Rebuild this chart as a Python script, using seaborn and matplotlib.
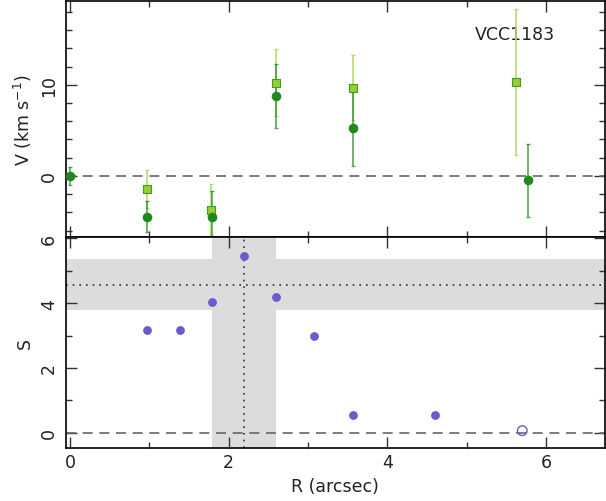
import numpy as np
import pandas as pd
import seaborn as sns
from matplotlib import pyplot as plt
from matplotlib.ticker import MultipleLocator

# velocity panel: circles (dark green) and squares (yellow-green)
circ_r = [0.0, 0.97, 1.79, 2.59, 3.57, 5.77]
circ_v = [0.0, -4.5, -4.5, 8.8, 5.3, -0.5]
circ_err = [1.0, 1.7, 2.8, 3.5, 4.25, 4.0]

sq_r = [0.97, 1.78, 2.59, 3.57, 5.62]
sq_v = [-1.4, -3.7, 10.25, 9.7, 10.3]
sq_err = [2.1, 2.8, 3.65, 3.6, 8.0]

# S panel
s_r = [0.97, 1.38, 1.79, 2.19, 2.59, 3.08, 3.57, 4.60]
s_val = [3.16, 3.16, 4.04, 5.46, 4.19, 2.98, 0.56, 0.56]
s_open_r = [5.70]
s_open_val = [0.06]

band_r = (1.79, 2.59)
peak_r = 2.19
band_s = (3.78, 5.35)
mean_s = 4.56

sns.set_style('ticks')
plt.rcParams['font.family'] = ['DejaVu Sans']
plt.rcParams['font.size'] = 12.5
plt.rcParams['text.color'] = '#222222'
plt.rcParams['axes.labelcolor'] = '#222222'
plt.rcParams['xtick.labelcolor'] = '#222222'
plt.rcParams['ytick.labelcolor'] = '#222222'
plt.rcParams['xtick.direction'] = 'in'
plt.rcParams['ytick.direction'] = 'in'
plt.rcParams['xtick.top'] = True
plt.rcParams['ytick.right'] = True

fig = plt.figure(figsize=(6.06, 5.02), dpi=100)
ax1 = fig.add_axes([0.109, 0.525, 0.889, 0.471])
ax2 = fig.add_axes([0.109, 0.1046, 0.889, 0.4204], sharex=ax1)

dark = '#1e8a1e'
light = '#9acd32'

# top panel
ax1.axhline(0, color='#666666', lw=1.2, ls=(0, (6, 4)), zorder=1)
ax1.text(5.1, 15.6, 'VCC1183', fontsize=12.5, va='center', zorder=1)
ax1.errorbar(sq_r, sq_v, yerr=sq_err, fmt='none', ecolor='#b5dc6a',
             elinewidth=1.2, capsize=1.5, zorder=2)
ax1.errorbar(circ_r, circ_v, yerr=circ_err, fmt='none', ecolor=dark,
             elinewidth=1.2, capsize=1.5, alpha=0.75, zorder=3)
sns.scatterplot(x=sq_r, y=sq_v, ax=ax1, marker='s', s=36, color=light,
                edgecolor='#3aa020', linewidth=0.8, zorder=4)
sns.scatterplot(x=circ_r, y=circ_v, ax=ax1, marker='o', s=48, color=dark,
                edgecolor=dark, linewidth=0, zorder=5)
ax1.set_ylim(-6.76, 19.2)
ax1.yaxis.set_major_locator(MultipleLocator(10))
ax1.yaxis.set_minor_locator(MultipleLocator(2))
ax1.set_ylabel('V (km s$^{-1}$)')
ax1.tick_params(labelbottom=False)

# bottom panel
ax2.axvspan(*band_r, color='#dcdcdc', lw=0, zorder=0)
ax2.axhspan(*band_s, color='#dcdcdc', lw=0, zorder=0)
ax2.axvline(peak_r, color='#333333', lw=1.2, ls=(0, (1, 3)), zorder=1)
ax2.axhline(mean_s, color='#333333', lw=1.2, ls=(0, (1, 3)), zorder=1)
ax2.axhline(0, color='#666666', lw=1.2, ls=(0, (6, 4)), zorder=1)
sns.scatterplot(x=s_r, y=s_val, ax=ax2, marker='o', s=40, color='#6a5acd',
                linewidth=0, zorder=3)
sns.scatterplot(x=s_open_r, y=s_open_val, ax=ax2, marker='o', s=48,
                facecolor='none', edgecolor='#6a5acd', linewidth=1.0, zorder=3)
ax2.set_ylim(-0.49, 6.03)
ax2.yaxis.set_major_locator(MultipleLocator(2))
ax2.yaxis.set_minor_locator(MultipleLocator(1))
ax2.set_ylabel('S')
ax2.set_xlabel('R (arcsec)')

ax2.set_xlim(-0.05, 6.74)
ax2.xaxis.set_major_locator(MultipleLocator(2))
ax2.xaxis.set_minor_locator(MultipleLocator(1))

for ax in (ax1, ax2):
    ax.tick_params(which='major', length=8, width=1, color='#333333')
    ax.tick_params(which='minor', length=4, width=1, color='#333333')
    ax.tick_params(axis='y', labelrotation=90, pad=6)
    for lbl in ax.get_yticklabels():
        lbl.set_va('center')
    for sp in ax.spines.values():
        sp.set_linewidth(1.2)
        sp.set_color('black')

fig.align_ylabels([ax1, ax2])
fig.savefig('out.png', dpi=100)
